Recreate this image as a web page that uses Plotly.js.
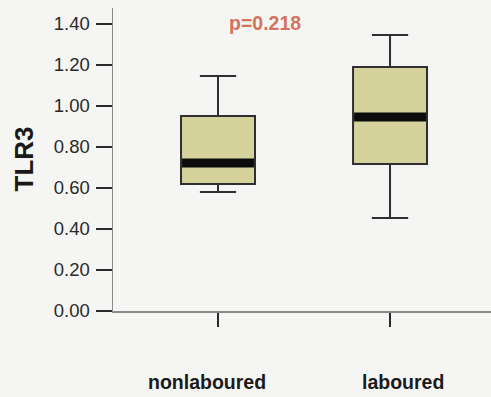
<!DOCTYPE html>
<html>
<head>
<meta charset="utf-8">
<script src="https://cdn.plot.ly/plotly-3.0.1.min.js"></script>
<style>html,body{margin:0;padding:0;background:#f5f5f3;}#chart{width:491px;height:397px;}</style>
</head>
<body>
<div id="chart"></div>
<script>
// Data
var categories = ["nonlaboured", "laboured"];
var lowerWhisker = [0.58, 0.454];
var q1Values = [0.62, 0.717];
var medianValues = [0.722, 0.946];
var q3Values = [0.951, 1.19];
var upperWhisker = [1.146, 1.346];
var yTickVals = [0, 0.2, 0.4, 0.6, 0.8, 1.0, 1.2, 1.4];
var yTickText = ["0.00", "0.20", "0.40", "0.60", "0.80", "1.00", "1.20", "1.40"];
var yTitle = "TLR3";
var pValueText = "p=0.218";

var boxWidth = 0.43;

var trace = {
  type: "box",
  x: categories,
  q1: q1Values,
  median: medianValues,
  q3: q3Values,
  lowerfence: lowerWhisker,
  upperfence: upperWhisker,
  width: boxWidth,
  whiskerwidth: 0.49,
  fillcolor: "#d5d29c",
  line: { color: "#2e2e33", width: 2 },
  hoverinfo: "skip",
  showlegend: false
};

var shapes = categories.map(function (c, i) {
  return {
    type: "line", xref: "x", yref: "y",
    x0: i - boxWidth / 2 + 0.006, x1: i + boxWidth / 2 - 0.006,
    y0: medianValues[i], y1: medianValues[i],
    line: { color: "#0c0c0c", width: 9 }
  };
});

var labelShifts = [-11, 13];
var annotations = categories.map(function (c, i) {
  return {
    xref: "x", yref: "paper", x: c, y: 0, yshift: -71,
    xshift: labelShifts[i],
    text: c, showarrow: false, xanchor: "center", yanchor: "middle",
    font: { family: "Liberation Sans, Arial, sans-serif", size: 19.5, color: "#1a1a1a", weight: "bold" }
  };
});
annotations.push({
  xref: "paper", yref: "paper", x: 0, xshift: -90, y: 0.5,
  text: "<b>" + yTitle + "</b>", textangle: -90, showarrow: false,
  xanchor: "center", yanchor: "middle",
  font: { family: "Liberation Sans, Arial, sans-serif", size: 26, color: "#1a1a1a" }
});
annotations.push({
  xref: "paper", yref: "paper", x: 0.4008, y: 0.9505,
  text: "<b>" + pValueText + "</b>", showarrow: false,
  xanchor: "center", yanchor: "middle",
  font: { family: "Liberation Sans, Arial, sans-serif", size: 19.5, color: "#d4735e" }
});

var layout = {
  width: 491, height: 397,
  margin: { l: 113, r: 0, t: 8, b: 86 },
  paper_bgcolor: "#f5f5f3",
  plot_bgcolor: "#f5f5f3",
  showlegend: false,
  xaxis: {
    type: "category",
    range: [-0.6105, 1.587],
    showgrid: false, zeroline: false,
    showline: true, linecolor: "#8a8a8a", linewidth: 1.5,
    ticks: "outside", ticklen: 14, tickwidth: 2, tickcolor: "#2a2a2a",
    showticklabels: false,
    fixedrange: true
  },
  yaxis: {
    range: [0, 1.478],
    showgrid: false, zeroline: false,
    showline: true, linecolor: "#8a8a8a", linewidth: 1.5,
    ticks: "outside", ticklen: 16, tickwidth: 2, tickcolor: "#2a2a2a",
    tickvals: yTickVals, ticktext: yTickText,
    tickfont: { family: "Liberation Sans, Arial, sans-serif", size: 18.5, color: "#2a2a2a" },
    ticklabelstandoff: 2,
    fixedrange: true
  },
  shapes: shapes,
  annotations: annotations
};

Plotly.newPlot("chart", [trace], layout, { staticPlot: true, displayModeBar: false });
</script>
</body>
</html>
